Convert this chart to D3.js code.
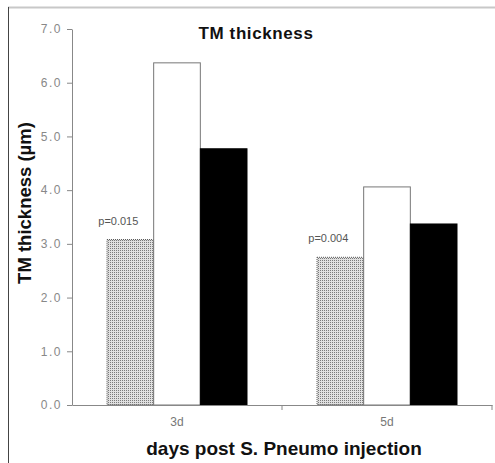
<!DOCTYPE html>
<html><head><meta charset="utf-8">
<script src="https://cdn.jsdelivr.net/npm/d3@7"></script>
<style>body{margin:0;background:#fff}svg{display:block}</style>
</head><body>
<svg id="c" width="495" height="463"></svg>
<script>
const categories = ["3d", "5d"];
const seriesNames = ["hatched", "white", "black"];
const hatchedValues = [3.08, 2.75];
const whiteValues = [6.37, 4.06];
const blackValues = [4.77, 3.37];
const pLabels = ["p=0.015", "p=0.004"];
const yTicks = [0, 1, 2, 3, 4, 5, 6, 7];

const svg = d3.select("#c");
const font = "Liberation Sans, Arial, sans-serif";
const defs = svg.append("defs");
const pat = defs.append("pattern").attr("id", "hatch").attr("patternUnits", "userSpaceOnUse")
  .attr("width", 2).attr("height", 2);
pat.append("rect").attr("width", 2).attr("height", 2).attr("fill", "#e0e0e0");
pat.append("rect").attr("width", 1).attr("height", 1).attr("fill", "#7a7a7a");

// frame
svg.append("line").attr("x1", 8).attr("x2", 495).attr("y1", 7.5).attr("y2", 7.5).attr("stroke", "#c8c8c8").attr("stroke-width", 2);
svg.append("line").attr("x1", 8.5).attr("x2", 8.5).attr("y1", 7).attr("y2", 463).attr("stroke", "#444").attr("stroke-width", 1);

const x0 = d3.scaleBand().domain(categories).range([72, 492]).paddingInner(0).paddingOuter(0);
const x1 = d3.scaleBand().domain(seriesNames).range([35, x0.bandwidth() - 35]);
const y = d3.scaleLinear().domain([0, 7]).range([405, 29]);

const data = categories.map((c, i) => ({
  cat: c,
  vals: [
    {s: "hatched", v: hatchedValues[i], fill: "url(#hatch)", stroke: "#555", dash: "1,1"},
    {s: "white", v: whiteValues[i], fill: "#fff", stroke: "#777", dash: null},
    {s: "black", v: blackValues[i], fill: "#000", stroke: "#000", dash: null}
  ],
  p: pLabels[i]
}));

const g = svg.append("g").selectAll("g").data(data).join("g")
  .attr("transform", d => `translate(${x0(d.cat)},0)`);
g.selectAll("rect").data(d => d.vals).join("rect")
  .attr("x", d => x1(d.s)).attr("width", x1.bandwidth())
  .attr("y", d => y(d.v)).attr("height", d => y(0) - y(d.v))
  .attr("fill", d => d.fill).attr("stroke", d => d.stroke).attr("stroke-width", 1)
  .attr("stroke-dasharray", d => d.dash);
g.append("text")
  .attr("x", d => x1("hatched") + x1.bandwidth() / 2 - 12)
  .attr("y", d => y(d.vals[0].v) - 15)
  .attr("text-anchor", "middle").attr("font-family", font).attr("font-size", 11)
  .attr("fill", "#555").text(d => d.p);

// y axis
const ya = svg.append("g").attr("transform", "translate(72,0)")
  .call(d3.axisLeft(y).tickValues(yTicks).tickFormat(d3.format(".1f")).tickSize(5).tickSizeOuter(0).tickPadding(5));
ya.select(".domain").attr("stroke", "#888");
ya.selectAll(".tick line").attr("stroke", "#888");
ya.selectAll(".tick text").attr("font-family", font).attr("font-size", 12).attr("letter-spacing", 1.5).attr("fill", "#888");

// x axis
const xa = svg.append("g").attr("transform", "translate(0,405)")
  .call(d3.axisBottom(x0).tickSize(0).tickPadding(12));
xa.select(".domain").attr("stroke", "#888");
xa.selectAll(".tick text").attr("font-family", font).attr("font-size", 12).attr("fill", "#777");
const bounds = [72, 282, 492];
xa.selectAll(".sep").data(bounds.slice(1)).join("line").attr("class", "sep")
  .attr("x1", d => d).attr("x2", d => d).attr("y1", 0).attr("y2", 5).attr("stroke", "#888");

// titles
svg.append("text").attr("x", 256).attr("y", 39).attr("text-anchor", "middle")
  .attr("font-family", font).attr("font-weight", "bold").attr("font-size", 17).attr("letter-spacing", 0.6).attr("fill", "#111").text("TM thickness");
svg.append("text").attr("transform", "translate(31,203) rotate(-90)").attr("text-anchor", "middle")
  .attr("font-family", font).attr("font-weight", "bold").attr("font-size", 18.5).attr("fill", "#111").text("TM thickness (µm)");
svg.append("text").attr("x", 284).attr("y", 455).attr("text-anchor", "middle")
  .attr("font-family", font).attr("font-weight", "bold").attr("font-size", 19).attr("fill", "#111").text("days post S. Pneumo injection");
</script>
</body></html>
